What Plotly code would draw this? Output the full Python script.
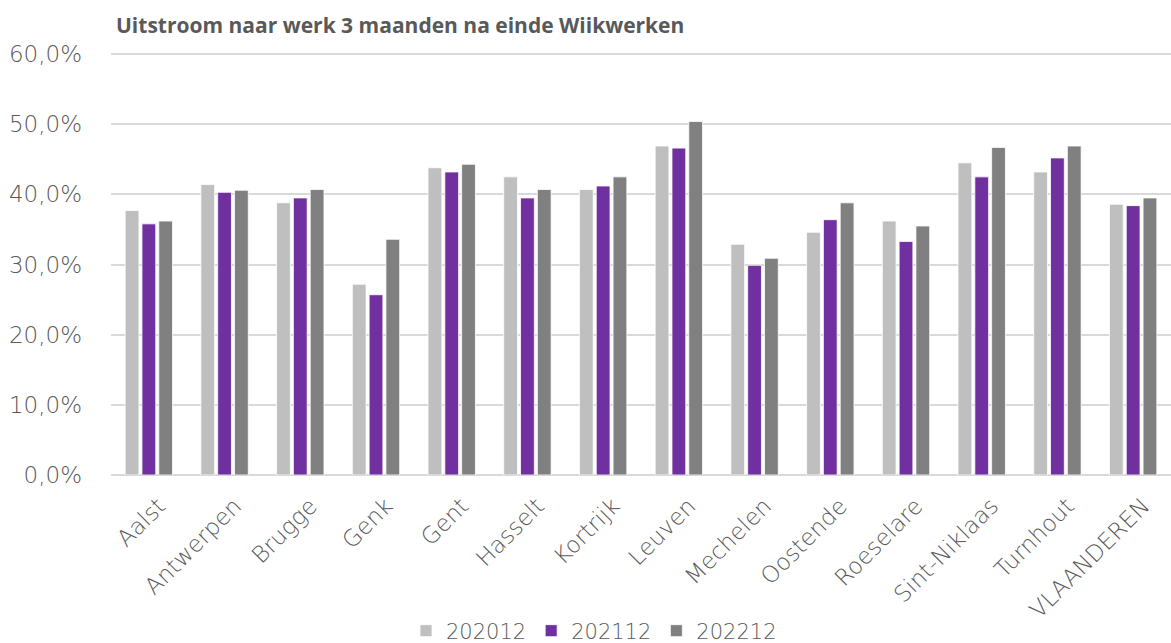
import plotly.graph_objects as go

categories = ["Aalst", "Antwerpen", "Brugge", "Genk", "Gent", "Hasselt", "Kortrijk",
              "Leuven", "Mechelen", "Oostende", "Roeselare", "Sint-Niklaas", "Turnhout", "VLAANDEREN"]
series_names = ["202012", "202112", "202212"]
v2020 = [37.7, 41.4, 38.8, 27.2, 43.8, 42.5, 40.7, 46.9, 32.9, 34.6, 36.2, 44.5, 43.2, 38.6]
v2021 = [35.8, 40.3, 39.5, 25.7, 43.2, 39.5, 41.2, 46.6, 29.9, 36.4, 33.3, 42.5, 45.2, 38.4]
v2022 = [36.2, 40.6, 40.7, 33.6, 44.3, 40.7, 42.5, 50.4, 30.9, 38.8, 35.5, 46.7, 46.9, 39.5]
colors = ["#BFBFBF", "#7030A0", "#808080"]

fig = go.Figure()
for name, vals, col in zip(series_names, [v2020, v2021, v2022], colors):
    fig.add_trace(go.Bar(
        x=categories, y=[v / 100 for v in vals], name=name,
        marker=dict(color=col, line=dict(color="white", width=0.8)),
    ))

label_font = "DejaVu Sans"
fig.update_layout(
    width=1171, height=643,
    paper_bgcolor="white", plot_bgcolor="white",
    separators=", ",
    margin=dict(l=111, r=0, t=52, b=168, autoexpand=False),
    barmode="group", bargap=0.334, bargroupgap=0.18,
    title=dict(text="<b>Uitstroom naar werk 3 maanden na einde Wiikwerken</b>",
               x=116 / 1171, xanchor="left", xref="container",
               y=1 - 26 / 643, yanchor="middle", yref="container",
               font=dict(family="Open Sans", size=21, color="#595959")),
    xaxis=dict(tickangle=-45, showgrid=False, showline=False, ticks="", automargin=False,
               ticklabelstandoff=12, ticklabelshift=10,
               tickfont=dict(family=label_font, size=23, color="#595959", weight=200)),
    yaxis=dict(range=[0, 0.603], tickvals=[0, 0.1, 0.2, 0.3, 0.4, 0.5, 0.6],
               tickformat=".1%", automargin=False,
               showgrid=True, gridcolor="#D9D9D9", gridwidth=1.5,
               zeroline=True, zerolinecolor="#D9D9D9", zerolinewidth=1.5,
               showline=False, ticks="", ticklabelstandoff=28,
               tickfont=dict(family=label_font, size=23, color="#595959", weight=200)),
    legend=dict(orientation="h", x=406 / 1171, xanchor="left", xref="container",
                y=1 - 631 / 643, yanchor="middle", yref="container",
                font=dict(family=label_font, size=21, color="#595959", weight=200),
                itemwidth=30, tracegroupgap=0),
)

fig.write_html("out.html", config={"displayModeBar": False},
               post_script="document.body.style.margin='0px';document.body.style.overflow='hidden';")
